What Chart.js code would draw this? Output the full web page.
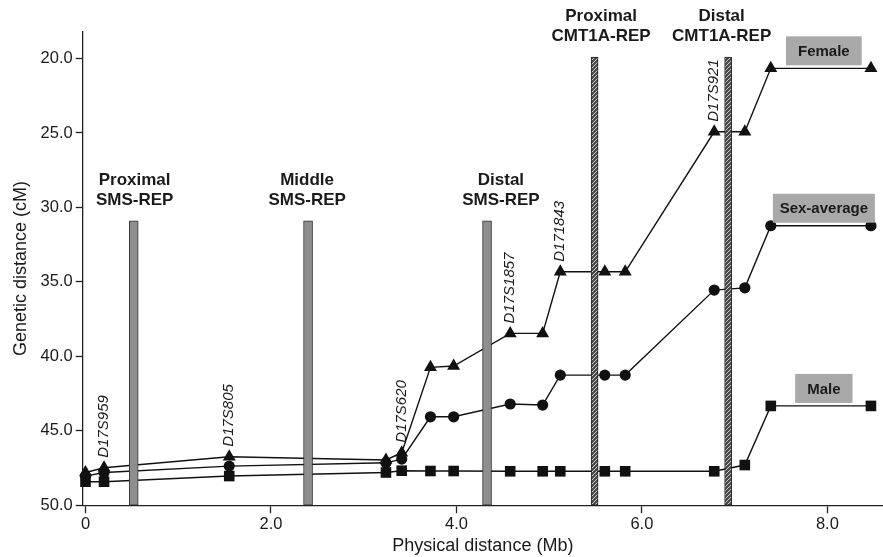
<!DOCTYPE html>
<html>
<head>
<meta charset="utf-8">
<script src="https://cdn.jsdelivr.net/npm/chart.js@4.4.0/dist/chart.umd.min.js"></script>
<style>
  html, body { margin: 0; padding: 0; background: #fff; }
  #wrap { width: 883px; height: 557px; }
</style>
</head>
<body>
<div id="wrap"><canvas id="chart"></canvas></div>
<script>
// physical position (Mb) of the markers, shared by the three maps
const markerMb = [0, 0.2, 1.55, 3.24, 3.41, 3.72, 3.97, 4.58, 4.93, 5.12, 5.6, 5.82, 6.78, 7.11, 7.39, 8.47];
// genetic distance (cM) per map
const femaleCm = [47.8, 47.48, 46.74, 46.96, 46.47, 40.74, 40.65, 38.46, 38.46, 34.32, 34.32, 34.32, 24.92, 24.92, 20.66, 20.66];
const sexAvgCm = [48.04, 47.8, 47.37, 47.15, 46.9, 44.06, 44.06, 43.2, 43.27, 41.26, 41.26, 41.26, 35.55, 35.4, 31.23, 31.23];
const maleCm = [48.42, 48.42, 48.04, 47.8, 47.68, 47.7, 47.7, 47.72, 47.72, 47.72, 47.72, 47.72, 47.72, 47.3, 43.33, 43.33];
const seriesNames = ['Female', 'Sex-average', 'Male'];

// named markers and the female point they sit on
const markerNames = ['D17S959', 'D17S805', 'D17S620', 'D17S1857', 'D171843', 'D17S921'];
const markerNameIdx = [1, 2, 4, 7, 9, 12];

// low-copy repeats
const smsMb = [0.52, 2.40, 4.33];
const smsTopCm = 30.9;
const cmtMb = [5.49, 6.93];
const cmtTopCm = 19.9;
const repeatNames = [['Proximal', 'SMS-REP'], ['Middle', 'SMS-REP'], ['Distal', 'SMS-REP'], ['Proximal', 'CMT1A-REP'], ['Distal', 'CMT1A-REP']];
const repeatLabelMb = [0.53, 2.39, 4.48, 5.56, 6.86];
const repeatTopCm = [smsTopCm, smsTopCm, smsTopCm, cmtTopCm, cmtTopCm];

const xTicks = [0, 2, 4, 6, 8];
const yTicks = [20, 25, 30, 35, 40, 45, 50];
const yMin = 18.2, yMax = 50;

const FONT = '"Liberation Sans", Arial, sans-serif';
const INK = '#1a1a1a';

// hatched fill for the CMT1A-REP bars
function hatch() {
  const c = document.createElement('canvas');
  c.width = 4; c.height = 4;
  const g = c.getContext('2d');
  g.fillStyle = '#4a4a4a';
  g.fillRect(0, 0, 4, 4);
  g.strokeStyle = '#cfcfcf';
  g.lineWidth = 1;
  g.beginPath();
  g.moveTo(0, 4); g.lineTo(4, 0);
  g.stroke();
  return g.createPattern(c, 'repeat');
}

const annotate = {
  id: 'annotate',
  afterDatasetsDraw(chart) {
    const {ctx, scales: {x, y}} = chart;
    ctx.save();
    ctx.fillStyle = INK;

    // repeat titles
    ctx.font = 'bold 17px ' + FONT;
    ctx.textAlign = 'center';
    ctx.textBaseline = 'middle';
    repeatNames.forEach((lines, i) => {
      const px = x.getPixelForValue(repeatLabelMb[i]);
      const top = y.getPixelForValue(repeatTopCm[i]);
      ctx.fillText(lines[0], px, top - 41);
      ctx.fillText(lines[1], px, top - 20.5);
    });

    // rotated marker names
    ctx.font = 'italic 15px ' + FONT;
    ctx.textAlign = 'left';
    markerNames.forEach((name, i) => {
      const k = markerNameIdx[i];
      const px = x.getPixelForValue(markerMb[k]);
      const py = y.getPixelForValue(femaleCm[k]);
      ctx.save();
      ctx.translate(px, py - 10);
      ctx.rotate(-Math.PI / 2);
      ctx.fillText(name, 0, 0);
      ctx.restore();
    });

    // grey name boxes above the last segment of each map
    ctx.font = 'bold 15px ' + FONT;
    ctx.textAlign = 'center';
    const ends = [femaleCm, sexAvgCm, maleCm];
    const n = markerMb.length;
    seriesNames.forEach((name, i) => {
      const cx = x.getPixelForValue((markerMb[n - 2] + markerMb[n - 1]) / 2) + 3;
      const bottom = y.getPixelForValue(ends[i][n - 1]) - 3;
      const w = Math.min(ctx.measureText(name).width + 24, 102);
      const h = 29;
      ctx.fillStyle = '#a9a9a9';
      ctx.fillRect(cx - w / 2, bottom - h, w, h);
      ctx.fillStyle = INK;
      ctx.fillText(name, cx, bottom - h / 2 + 1);
    });
    ctx.restore();
  }
};

function lineSet(label, values, style, radius) {
  return {
    type: 'line',
    label: label,
    data: markerMb.map((m, i) => ({x: m, y: values[i]})),
    borderColor: '#111',
    borderWidth: 1.4,
    backgroundColor: '#111',
    pointBackgroundColor: '#111',
    pointBorderColor: '#111',
    pointStyle: style,
    pointRadius: radius,
    pointBorderWidth: 0,
    tension: 0,
    fill: false,
    clip: false,
    order: 1
  };
}

new Chart(document.getElementById('chart'), {
  type: 'line',
  data: {
    datasets: [
      lineSet(seriesNames[0], femaleCm, 'triangle', 7.5),
      lineSet(seriesNames[1], sexAvgCm, 'circle', 5.6),
      lineSet(seriesNames[2], maleCm, 'rect', 7.5),
      {
        type: 'bar',
        data: smsMb.map(m => ({x: m, y: [smsTopCm, yMax]})),
        backgroundColor: '#8e8e8e',
        borderColor: '#333',
        borderWidth: 1,
        borderSkipped: false,
        barThickness: 9,
        grouped: false,
        order: 0
      },
      {
        type: 'bar',
        data: cmtMb.map(m => ({x: m, y: [cmtTopCm, yMax]})),
        backgroundColor: hatch(),
        borderColor: '#222',
        borderWidth: 1,
        borderSkipped: false,
        barThickness: 7,
        grouped: false,
        order: 0
      }
    ]
  },
  options: {
    responsive: true,
    maintainAspectRatio: false,
    animation: false,
    layout: {autoPadding: false, padding: {left: 10, right: 0, top: 31.7, bottom: 0}},
    plugins: {
      legend: {display: false},
      tooltip: {enabled: false}
    },
    scales: {
      x: {
        type: 'linear',
        min: -0.03,
        max: 8.6,
        offset: false,
        afterBuildTicks: (s) => { s.ticks = xTicks.map(v => ({value: v})); },
        ticks: {
          color: INK,
          font: {family: FONT, size: 16.5, lineHeight: 1.1},
          padding: 2,
          callback: (v) => v === 0 ? '0' : v.toFixed(1)
        },
        grid: {display: true, offset: false, drawOnChartArea: false, drawTicks: true, tickLength: 8, color: '#222', tickWidth: 1.3},
        border: {display: true, color: '#222', width: 1.3},
        title: {display: true, text: 'Physical distance (Mb)', color: INK, font: {family: FONT, size: 18}, padding: {top: 0, bottom: 0}}
      },
      y: {
        type: 'linear',
        reverse: true,
        min: yMin,
        max: yMax,
        afterBuildTicks: (s) => { s.ticks = yTicks.map(v => ({value: v})); },
        ticks: {
          color: INK,
          font: {family: FONT, size: 16.5},
          padding: 3,
          callback: (v) => v.toFixed(1)
        },
        grid: {display: true, drawOnChartArea: false, drawTicks: true, tickLength: 7, color: '#222', tickWidth: 1.3},
        border: {display: true, color: '#222', width: 1.3},
        title: {display: true, text: 'Genetic distance (cM)', color: INK, font: {family: FONT, size: 18}, padding: {top: 0, bottom: 6}}
      }
    }
  },
  plugins: [annotate]
});
</script>
</body>
</html>
